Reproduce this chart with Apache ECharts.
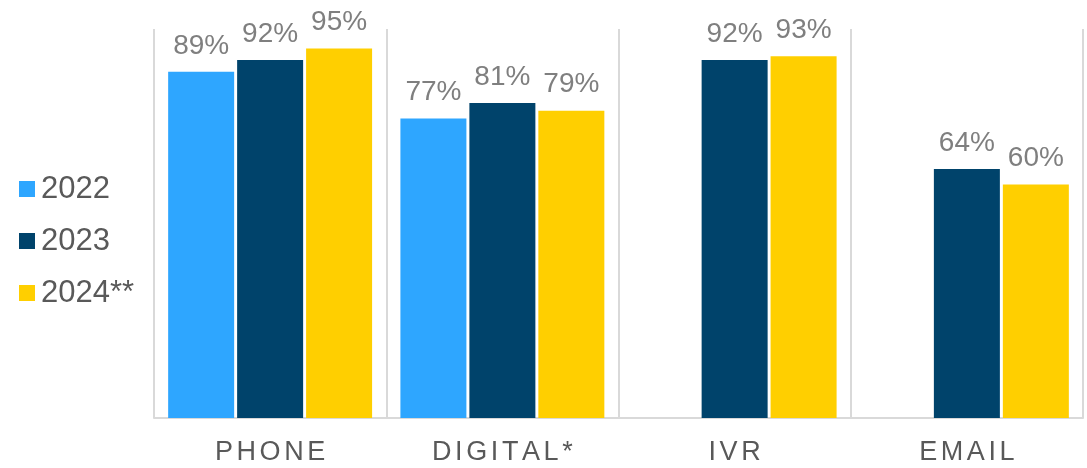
<!DOCTYPE html>
<html>
<head>
<meta charset="utf-8">
<script src="https://cdn.jsdelivr.net/npm/echarts@6/dist/echarts.min.js"></script>
<style>
  html, body { margin: 0; padding: 0; background: #ffffff; }
  #chart { width: 1087px; height: 468px; }
</style>
</head>
<body>
<div id="chart"></div>
<script>
const categories = ['PHONE', 'DIGITAL*', 'IVR', 'EMAIL']
const seriesNames = ['2022', '2023', '2024**']
const values2022 = [89, 77, null, null]
const values2023 = [92, 81, 92, 64]
const values2024 = [95, 79, 93, 60]

const colors = ['#2EA6FF', '#00436B', '#FFCF00']
const font = "'Liberation Sans', Arial, sans-serif"

const chart = echarts.init(document.getElementById('chart'))

const makeSeries = (name, data, color) => ({
  name: name,
  type: 'bar',
  data: data,
  barWidth: 66,
  barGap: '4.5%',
  itemStyle: { color: color },
  label: {
    show: true,
    position: 'top',
    distance: 12,
    formatter: p => p.value + '%',
    color: '#7F7F7F',
    fontSize: 28,
    fontFamily: font
  }
})

const option = {
  backgroundColor: '#ffffff',
  animation: false,
  color: colors,
  legend: {
    orient: 'vertical',
    left: 14,
    top: 167,
    icon: 'rect',
    itemWidth: 16,
    itemHeight: 16,
    itemGap: 18,
    data: seriesNames,
    textStyle: {
      color: '#595959',
      fontSize: 31,
      fontFamily: font,
      lineHeight: 34,
      padding: [0, 0, 0, 1]
    }
  },
  grid: {
    left: 154,
    right: 4,
    top: 29,
    bottom: 50
  },
  xAxis: {
    type: 'category',
    data: categories,
    axisLine: { lineStyle: { color: '#D9D9D9', width: 2 } },
    axisTick: { show: false },
    splitLine: { show: true, interval: 0, lineStyle: { color: '#D9D9D9', width: 2 } },
    axisLabel: {
      interval: 0,
      margin: 21,
      // split letters into tokens so the padding spreads them out
      formatter: v => v.split('').map(c => '{l|' + c + '}').join(''),
      rich: {
        l: {
          color: '#595959',
          fontSize: 27,
          fontFamily: font,
          padding: [0, 1.8, 0, 1.8]
        }
      }
    }
  },
  yAxis: {
    type: 'value',
    show: false,
    min: 0,
    max: 100,
    splitLine: { show: false }
  },
  series: [
    makeSeries(seriesNames[0], values2022, colors[0]),
    makeSeries(seriesNames[1], values2023, colors[1]),
    makeSeries(seriesNames[2], values2024, colors[2])
  ]
}

chart.setOption(option, true)
</script>
</body>
</html>
